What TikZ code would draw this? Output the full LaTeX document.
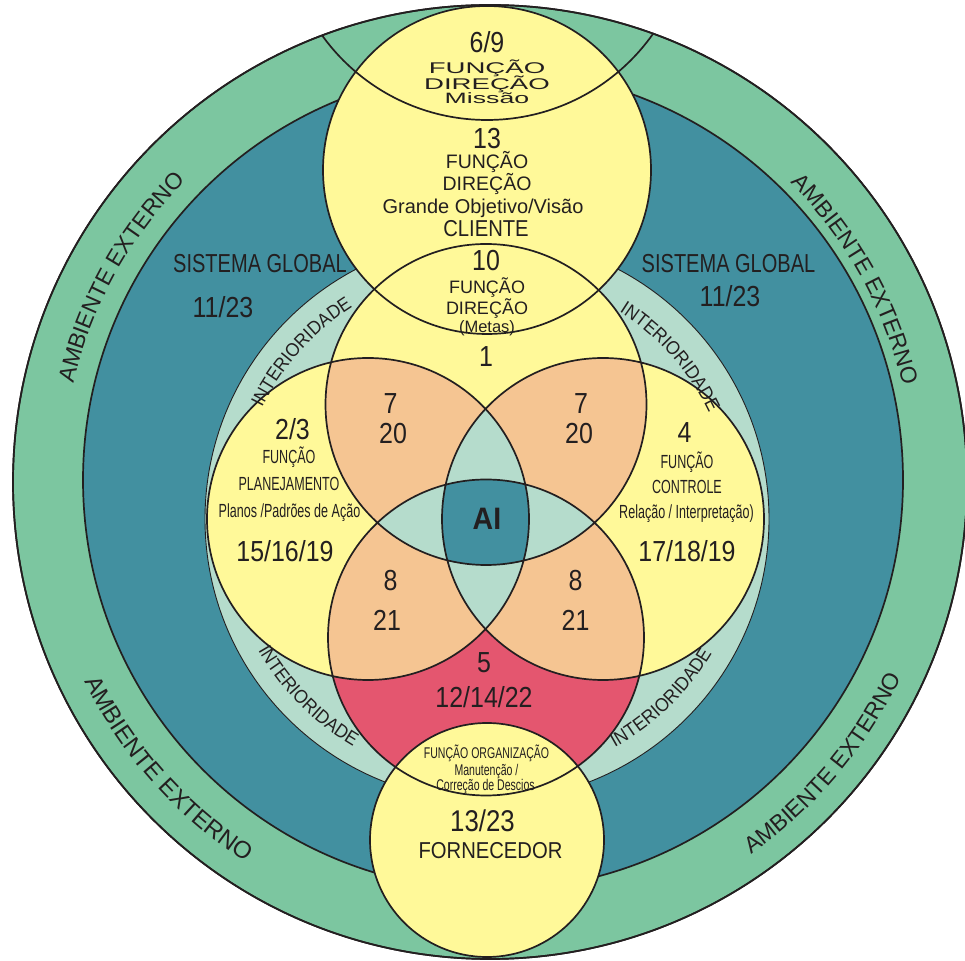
\documentclass[tikz,border=0pt]{standalone}
\usepackage{fontspec}
\setmainfont{Liberation Sans}
\newfontfamily\fdig[FakeStretch=0.86]{Liberation Sans}
\newfontfamily\fnar[FakeStretch=0.66]{Liberation Sans}
\newfontfamily\forg[FakeStretch=0.68]{Liberation Sans}
\newfontfamily\fmid[FakeStretch=0.88]{Liberation Sans}
\newfontfamily\fsis[FakeStretch=0.77]{Liberation Sans}
\newfontfamily\fwide[FakeStretch=1.78]{Liberation Sans}
\newfontfamily\fai[FakeStretch=0.92]{Liberation Sans}
\newfontfamily\fintfam[FakeStretch=0.92]{Liberation Sans}
\newcommand\fsz[1]{\fontsize{#1}{#1}\selectfont}
\newcommand\ambfont{\fontsize{23}{23}\selectfont}
\newcommand\ambfontb{\fontsize{24}{24}\selectfont}
\newcommand\intfont{\fintfam\fontsize{19}{19}\selectfont}
\usetikzlibrary{decorations.text}
\definecolor{ink}{RGB}{35,31,32}
\definecolor{cgreen}{RGB}{124,198,160}
\definecolor{cteal}{RGB}{66,144,160}
\definecolor{clt}{RGB}{181,220,204}
\definecolor{cyel}{RGB}{255,249,153}
\definecolor{corg}{RGB}{245,197,146}
\definecolor{cred}{RGB}{228,86,111}
\begin{document}
\begin{tikzpicture}[x=1pt,y=1pt,
  ln/.style={draw=ink,line width=1.7pt},
  thinln/.style={draw=ink,line width=0.9pt},
  lbl/.style={anchor=base,inner sep=0pt,text=ink},
  dig/.style={lbl,font=\fdig\fsz{29}},
  nar/.style={lbl,font=\fnar\fsz{19}},
  org/.style={lbl,font=\forg\fsz{15.5}},
  arctext/.style={decorate,decoration={text along path,text align=center,text color=ink,text={#1}}}]
\useasboundingbox (0,0) rectangle (965,960);
\clip (0,0) rectangle (965,960);
\coordinate (O) at (490,478);
\coordinate (G) at (493,480);
\coordinate (C) at (487,441);
\coordinate (L) at (368,441);
\coordinate (R) at (603,441);
\coordinate (T) at (486,555.5);
\coordinate (B) at (486,322.5);
\coordinate (K) at (487,790);
\coordinate (F) at (487,120);
\coordinate (M) at (487,1043);
% rings
\filldraw[fill=cgreen, ln] (O) circle[radius=477];
\filldraw[fill=cteal, ln] (G) circle[radius=410];
\filldraw[fill=clt, thinln] (C) circle[radius=282];
% flower
\fill[cyel] (L) circle[radius=161] (R) circle[radius=161] (T) circle[radius=160.5];
\fill[cred] (B) circle[radius=158];
\begin{scope}\clip (T) circle[radius=160.5]; \fill[corg] (L) circle[radius=161] (R) circle[radius=161];\end{scope}
\begin{scope}\clip (B) circle[radius=158]; \fill[corg] (L) circle[radius=161] (R) circle[radius=161];\end{scope}
\begin{scope}\clip (L) circle[radius=161]; \fill[clt] (R) circle[radius=161];\end{scope}
\begin{scope}\clip (T) circle[radius=160.5]; \fill[clt] (B) circle[radius=158];\end{scope}
\begin{scope}\clip (L) circle[radius=161]; \clip (R) circle[radius=161]; \clip (T) circle[radius=160.5]; \fill[cteal] (B) circle[radius=158];\end{scope}
\fill[cyel] (K) circle[radius=164];
\fill[cyel] (F) circle[radius=117];
\draw[ln] (L) circle[radius=161] (R) circle[radius=161] (T) circle[radius=160.5] (B) circle[radius=158];
\draw[ln] (K) circle[radius=164] (F) circle[radius=117];
\begin{scope}\clip (O) circle[radius=477]; \draw[ln] (M) circle[radius=203];\end{scope}
\draw[ln] (O) circle[radius=477];
% texts
\node[dig] (t69) at (487,907.6) {6/9};
\node[lbl,font=\fwide\fsz{15.5}] (tf1) at (487,886.5) {FUNÇÃO};
\node[lbl,font=\fwide\fsz{15.5}] (td1) at (487,870.5) {DIREÇÃO};
\node[lbl,font=\fwide\fsz{15}] (tm) at (487,856) {Missão};
\node[dig] (t13) at (487,811.6) {13};
\node[lbl,font=\fsz{19.5}] (tf2) at (487,791) {FUNÇÃO};
\node[lbl,font=\fsz{19.5}] (td2) at (487,769) {DIREÇÃO};
\node[lbl,font=\fsz{20}] (tg) at (483,746) {Grande Objetivo/Visão};
\node[lbl,font=\fmid\fsz{23}] (tcl) at (486,723) {CLIENTE};
\node[dig] (t10) at (486,689.6) {10};
\node[lbl,font=\fsz{18}] (tf3) at (487,666.6) {FUNÇÃO};
\node[lbl,font=\fsz{18}] (td3) at (487,645.6) {DIREÇÃO};
\node[lbl,font=\fsz{16.5}] (tmet) at (487,627) {(Metas)};
\node[dig] (t1) at (486,593) {1};
\node[dig] (t7a) at (390.5,546) {7};
\node[dig] (t20a) at (393,516) {20};
\node[dig] (t7b) at (581,546) {7};
\node[dig] (t20b) at (579,516) {20};
\node[dig] (t23) at (292.5,520) {2/3};
\node[nar] (tfp) at (289,496.4) {FUNÇÃO};
\node[nar] (tpl) at (289,469.4) {PLANEJAMENTO};
\node[nar] (tpa) at (289.5,442.4) {Planos /Padrões de Ação};
\node[dig] (t151) at (285,398.6) {15/16/19};
\node[dig] (t4) at (684.5,517.5) {4};
\node[nar] (tfc) at (687,491.4) {FUNÇÃO};
\node[nar] (tco) at (687,466.4) {CONTROLE};
\node[nar] (tre) at (686.5,441.4) {Relação / Interpretação)};
\node[dig] (t171) at (687,398.6) {17/18/19};
\node[lbl,font=\fai\bfseries\fsz{31}] (tai) at (487,430.4) {AI};
\node[dig] (t8a) at (390.5,369) {8};
\node[dig] (t21a) at (387,329.6) {21};
\node[dig] (t8b) at (575.5,369) {8};
\node[dig] (t21b) at (575.5,329.6) {21};
\node[dig] (t5) at (484,287.1) {5};
\node[dig] (t12) at (484,252.1) {12/14/22};
\node[org] (tor) at (486.5,201) {FUNÇÃO ORGANIZAÇÃO};
\node[org] (tma) at (486.5,184.5) {Manutenção /};
\node[org] (tcor) at (485.5,169.5) {Correção de Descios};
\node[lbl,font=\fdig\fsz{30}] (t1323) at (482.5,128.3) {13/23};
\node[lbl,font=\fmid\fsz{23}] (tfor) at (490.5,101.8) {FORNECEDOR};
\node[lbl,font=\fsis\fsz{26}] (tsg1) at (260,687) {SISTEMA GLOBAL};
\node[dig] (ts1) at (223,642) {11/23};
\node[lbl,font=\fsis\fsz{26}] (tsg2) at (728.5,687) {SISTEMA GLOBAL};
\node[dig] (ts2) at (730,653.5) {11/23};
% curved labels
\path[arctext={|\ambfont|AMBIENTE EXTERNO}] ([shift={(181:428)}]O) arc[start angle=181,end angle=121,radius=428];
\path[arctext={|\ambfont|AMBIENTE EXTERNO}] ([shift={(59:424)}]O) arc[start angle=59,end angle=-1,radius=424];
\path[arctext={|\ambfontb|AMBIENTE EXTERNO}] ([shift={(191.7:452)}]O) arc[start angle=191.7,end angle=251.7,radius=452];
\path[arctext={|\ambfont|AMBIENTE EXTERNO}] ([shift={(289.8:455)}]O) arc[start angle=289.8,end angle=349.8,radius=455];
\path[arctext={|\intfont|INTERIORIDADE}] ([shift={(168:251)}]C) arc[start angle=168,end angle=108,radius=251];
\path[arctext={|\intfont|INTERIORIDADE}] ([shift={(71.5:246)}]C) arc[start angle=71.5,end angle=11.5,radius=246];
\path[arctext={|\intfont|INTERIORIDADE}] ([shift={(194.7:264)}]C) arc[start angle=194.7,end angle=254.7,radius=264];
\path[arctext={|\intfont|INTERIORIDADE}] ([shift={(284.2:262)}]C) arc[start angle=284.2,end angle=344.2,radius=262];
\end{tikzpicture}
\end{document}
